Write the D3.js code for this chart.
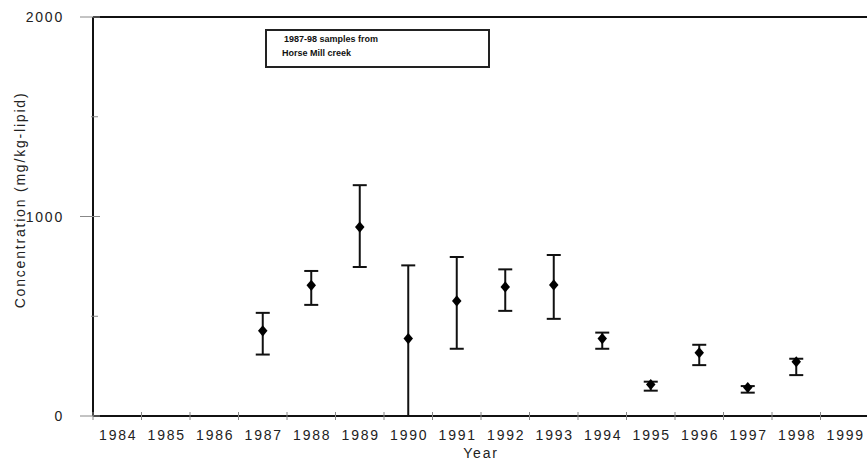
<!DOCTYPE html>
<html>
<head>
  <script src="https://d3js.org/d3.v7.min.js"></script>
  <style type="text/css">
    body { margin: 0; background-color: #ffffff; }
    svg { display: block; font-family: Arial, 'Liberation Sans', sans-serif; }
    .lab { font-size: 14px; letter-spacing: 1.8px; fill: #222; }
  </style>
</head>
<body>
<div id="chart"></div>
<script>
  // data
  var years = [1984, 1985, 1986, 1987, 1988, 1989, 1990, 1991, 1992, 1993, 1994, 1995, 1996, 1997, 1998, 1999];
  var sampleYears = [1987, 1988, 1989, 1990, 1991, 1992, 1993, 1994, 1995, 1996, 1997, 1998];
  var means = [427, 655, 947, 388, 577, 647, 657, 388, 158, 317, 143, 272];
  var upper = [517, 727, 1157, 755, 797, 735, 807, 418, 172, 357, 150, 287];
  var lower = [308, 557, 747, 0, 337, 527, 487, 337, 127, 255, 117, 205];
  var majorTicks = [0, 1000, 2000];
  var minorTicks = [500, 1500];
  var legendLines = ["1987-98 samples from", "Horse Mill creek"];

  var width = 867, height = 461;
  var svg = d3.select("#chart").append("svg").attr("width", width).attr("height", height);

  var x = d3.scaleBand().domain(years).range([93, 869]);
  var y = d3.scaleLinear().domain([0, 2000]).range([416, 17]);

  // axes lines
  svg.append("line").attr("x1", x.range()[0]).attr("x2", width).attr("y1", y(0)).attr("y2", y(0))
    .attr("stroke", "#111").attr("stroke-width", 2);
  svg.append("line").attr("x1", x.range()[0]).attr("x2", width).attr("y1", y(2000)).attr("y2", y(2000))
    .attr("stroke", "#111").attr("stroke-width", 2);
  svg.append("line").attr("x1", 93).attr("x2", 93).attr("y1", y(0)).attr("y2", y(2000))
    .attr("stroke", "#111").attr("stroke-width", 2);

  // y ticks
  svg.selectAll(".ymajor").data(majorTicks).enter().append("line")
    .attr("x1", 80).attr("x2", 100).attr("y1", y).attr("y2", y)
    .attr("stroke", "#888").attr("stroke-width", 1);
  svg.selectAll(".yminor").data(minorTicks).enter().append("line")
    .attr("x1", 91).attr("x2", 98).attr("y1", y).attr("y2", y)
    .attr("stroke", "#888").attr("stroke-width", 1);
  svg.selectAll(".ylab").data(majorTicks).enter().append("text")
    .attr("class", "lab")
    .attr("x", 64).attr("y", function(d) { return y(d) + 5; })
    .attr("text-anchor", "end")
    .text(function(d) { return d; });

  // x ticks
  svg.selectAll(".xtick").data(years).enter().append("line")
    .attr("x1", function(d) { return x(d); }).attr("x2", function(d) { return x(d); })
    .attr("y1", 412).attr("y2", 420).attr("stroke", "#888").attr("stroke-width", 1);
  svg.selectAll(".xlab").data(years).enter().append("text")
    .attr("class", "lab")
    .attr("x", function(d) { return x(d) + x.bandwidth() / 2 + 1; }).attr("y", 440)
    .attr("text-anchor", "middle")
    .text(function(d) { return d; });

  svg.append("text").attr("class", "lab").attr("x", 481).attr("y", 458).attr("text-anchor", "middle")
    .attr("letter-spacing", "1px").text("Year");
  svg.append("text").attr("class", "lab").attr("transform", "translate(25,200) rotate(-90)")
    .attr("text-anchor", "middle").text("Concentration (mg/kg-lipid)");

  // error bars
  var cx = function(i) { return x(sampleYears[i]) + x.bandwidth() / 2; };
  var bars = svg.selectAll(".err").data(sampleYears).enter().append("g");
  bars.append("line")
    .attr("x1", function(d, i) { return cx(i); }).attr("x2", function(d, i) { return cx(i); })
    .attr("y1", function(d, i) { return y(upper[i]); }).attr("y2", function(d, i) { return y(lower[i]); })
    .attr("stroke", "#111").attr("stroke-width", 2);
  bars.append("line")
    .attr("x1", function(d, i) { return cx(i) - 7; }).attr("x2", function(d, i) { return cx(i) + 7; })
    .attr("y1", function(d, i) { return y(upper[i]); }).attr("y2", function(d, i) { return y(upper[i]); })
    .attr("stroke", "#111").attr("stroke-width", 2);
  bars.filter(function(d, i) { return lower[i] > 0; }).append("line")
    .attr("x1", function(d) { return cx(sampleYears.indexOf(d)) - 7; })
    .attr("x2", function(d) { return cx(sampleYears.indexOf(d)) + 7; })
    .attr("y1", function(d) { return y(lower[sampleYears.indexOf(d)]); })
    .attr("y2", function(d) { return y(lower[sampleYears.indexOf(d)]); })
    .attr("stroke", "#111").attr("stroke-width", 2);
  bars.append("path")
    .attr("d", d3.symbol().type(d3.symbolDiamond).size(50))
    .attr("transform", function(d, i) { return "translate(" + cx(i) + "," + y(means[i]) + ") scale(1.25,0.85)"; })
    .attr("fill", "#000");

  // legend
  svg.append("rect").attr("x", 266).attr("y", 30).attr("width", 223).attr("height", 37)
    .attr("fill", "none").attr("stroke", "#222").attr("stroke-width", 2);
  svg.selectAll(".leg").data(legendLines).enter().append("text")
    .attr("x", function(d, i) { return i == 0 ? 284 : 282; })
    .attr("y", function(d, i) { return 42 + i * 14; })
    .attr("font-size", 9).attr("font-weight", "bold").attr("fill", "#111")
    .text(function(d) { return d; });
</script>
</body>
</html>
